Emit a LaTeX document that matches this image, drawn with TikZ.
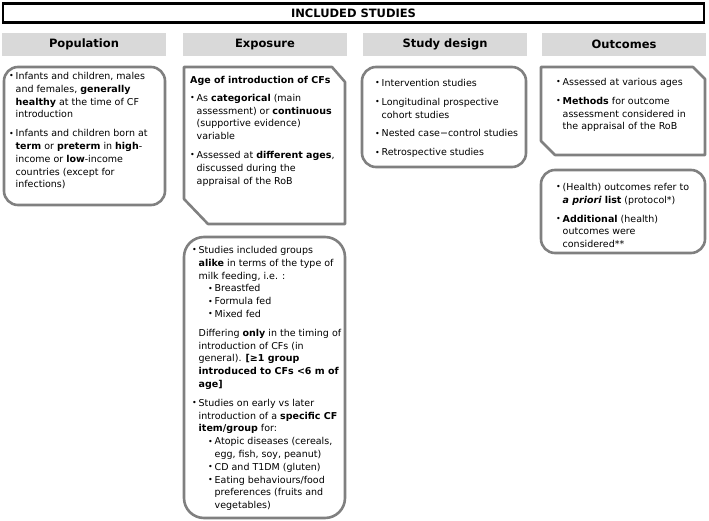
\documentclass[tikz,border=0pt]{standalone}
\usepackage{fontspec}
\setmainfont{DejaVu Sans}
\definecolor{boxgray}{HTML}{808080}
\definecolor{headgray}{HTML}{D9D9D9}
\newcommand{\itembul}{\makebox[6.5pt][l]{\raisebox{0.05em}{\fontsize{8}{8}\selectfont •}}}
\newcommand{\itemind}{\hspace*{6.5pt}}

\begin{document}
\begin{tikzpicture}
  [x=1pt, y=-1pt,
   titlebox/.style = {draw, line width=2.6pt, minimum width=701pt, minimum height=19pt,
                      inner sep=0pt, font=\fontsize{11.5}{13}\selectfont\bfseries},
   headbox/.style = {fill=headgray, minimum width=164pt, minimum height=23pt,
                     inner sep=0pt, font=\fontsize{11.5}{13}\selectfont\bfseries},
   boxframe/.style = {draw=boxgray, line width=2.6pt, line join=round},
   roundframe/.style = {boxframe, rounded corners=14pt},
   body/.style = {anchor=north west, inner sep=0pt, align=left,
                  font=\fontsize{9.5}{12.8}\selectfont}]
  \useasboundingbox (0,0) rectangle (709,521);

  % title and column heads
  \node[titlebox] (incl) at (353.5,13) {INCLUDED STUDIES};
  \node[headbox] (pophead) at (84,44.5) {Population};
  \node[headbox] (exphead) at (265,44.5) {Exposure};
  \node[headbox] (deshead) at (445,44.5) {Study design};
  \node[headbox] (outhead) at (624,44.5) {Outcomes};

  % frames
  \draw[roundframe] (4,67) rectangle (165,205);
  \draw[boxframe] (184,67) -- (332,67) -- (345,82) -- (345,224) -- (208,224) -- (184,199) -- cycle;
  \draw[roundframe, rounded corners=20pt] (184,237) rectangle (345,518);
  \draw[roundframe] (362,67) rectangle (526,167);
  \draw[boxframe] (541,67) -- (693,67) -- (705,79) -- (705,155) -- (555,155) -- (541,141) -- cycle;
  \draw[roundframe] (541,170) rectangle (705,253);

  % population
  \node[body] (poptext) at (9,72) {%
    \itembul Infants and children, males\\
    \itemind and females, \textbf{generally}\\
    \itemind \textbf{healthy} at the time of CF\\
    \itemind introduction\\[6pt]
    \itembul Infants and children born at\\
    \itemind \textbf{term} or \textbf{preterm} in \textbf{high}-\\
    \itemind income or \textbf{low}-income\\
    \itemind countries (except for\\
    \itemind infections)};

  % exposure
  \node[body] (agetext) at (190,76) {%
    \textbf{Age of introduction of CFs}\\[5pt]
    \itembul As \textbf{categorical} (main\\
    \itemind assessment) or \textbf{continuous}\\
    \itemind (supportive evidence)\\
    \itemind variable\\[6pt]
    \itembul Assessed at \textbf{different ages},\\
    \itemind discussed during the\\
    \itemind appraisal of the RoB};
  \node[body] (grptext) at (192,246) {%
    \itembul Studies included groups\\
    \itemind \textbf{alike} in terms of the type of\\
    \itemind milk feeding, i.e. :\\
    \hspace*{16pt}\itembul Breastfed\\
    \hspace*{16pt}\itembul Formula fed\\
    \hspace*{16pt}\itembul Mixed fed\\[6pt]
    \itemind Differing \textbf{only} in the timing of\\
    \itemind introduction of CFs (in\\
    \itemind general). \textbf{[≥1 group}\\
    \itemind \textbf{introduced to CFs <6 m of}\\
    \itemind \textbf{age]}\\[6pt]
    \itembul Studies on early vs later\\
    \itemind introduction of a \textbf{specific CF}\\
    \itemind \textbf{item/group} for:\\
    \hspace*{16pt}\itembul Atopic diseases (cereals,\\
    \hspace*{22.5pt}egg, fish, soy, peanut)\\
    \hspace*{16pt}\itembul CD and T1DM (gluten)\\
    \hspace*{16pt}\itembul Eating behaviours/food\\
    \hspace*{22.5pt}preferences (fruits and\\
    \hspace*{22.5pt}vegetables)};

  % study design
  \node[body] (destext) at (375,79) {%
    \itembul Intervention studies\\[6pt]
    \itembul Longitudinal prospective\\
    \itemind cohort studies\\[6pt]
    \itembul Nested case−control studies\\[6pt]
    \itembul Retrospective studies};

  % outcomes
  \node[body] (agestext) at (556,78) {%
    \itembul Assessed at various ages\\[6pt]
    \itembul \textbf{Methods} for outcome\\
    \itemind assessment considered in\\
    \itemind the appraisal of the RoB};
  \node[body] (listtext) at (556,183) {%
    \itembul (Health) outcomes refer to\\
    \itemind \textbf{\textit{a priori}} \textbf{list} (protocol*)\\[6pt]
    \itembul \textbf{Additional} (health)\\
    \itemind outcomes were\\
    \itemind considered**};
\end{tikzpicture}
\end{document}
